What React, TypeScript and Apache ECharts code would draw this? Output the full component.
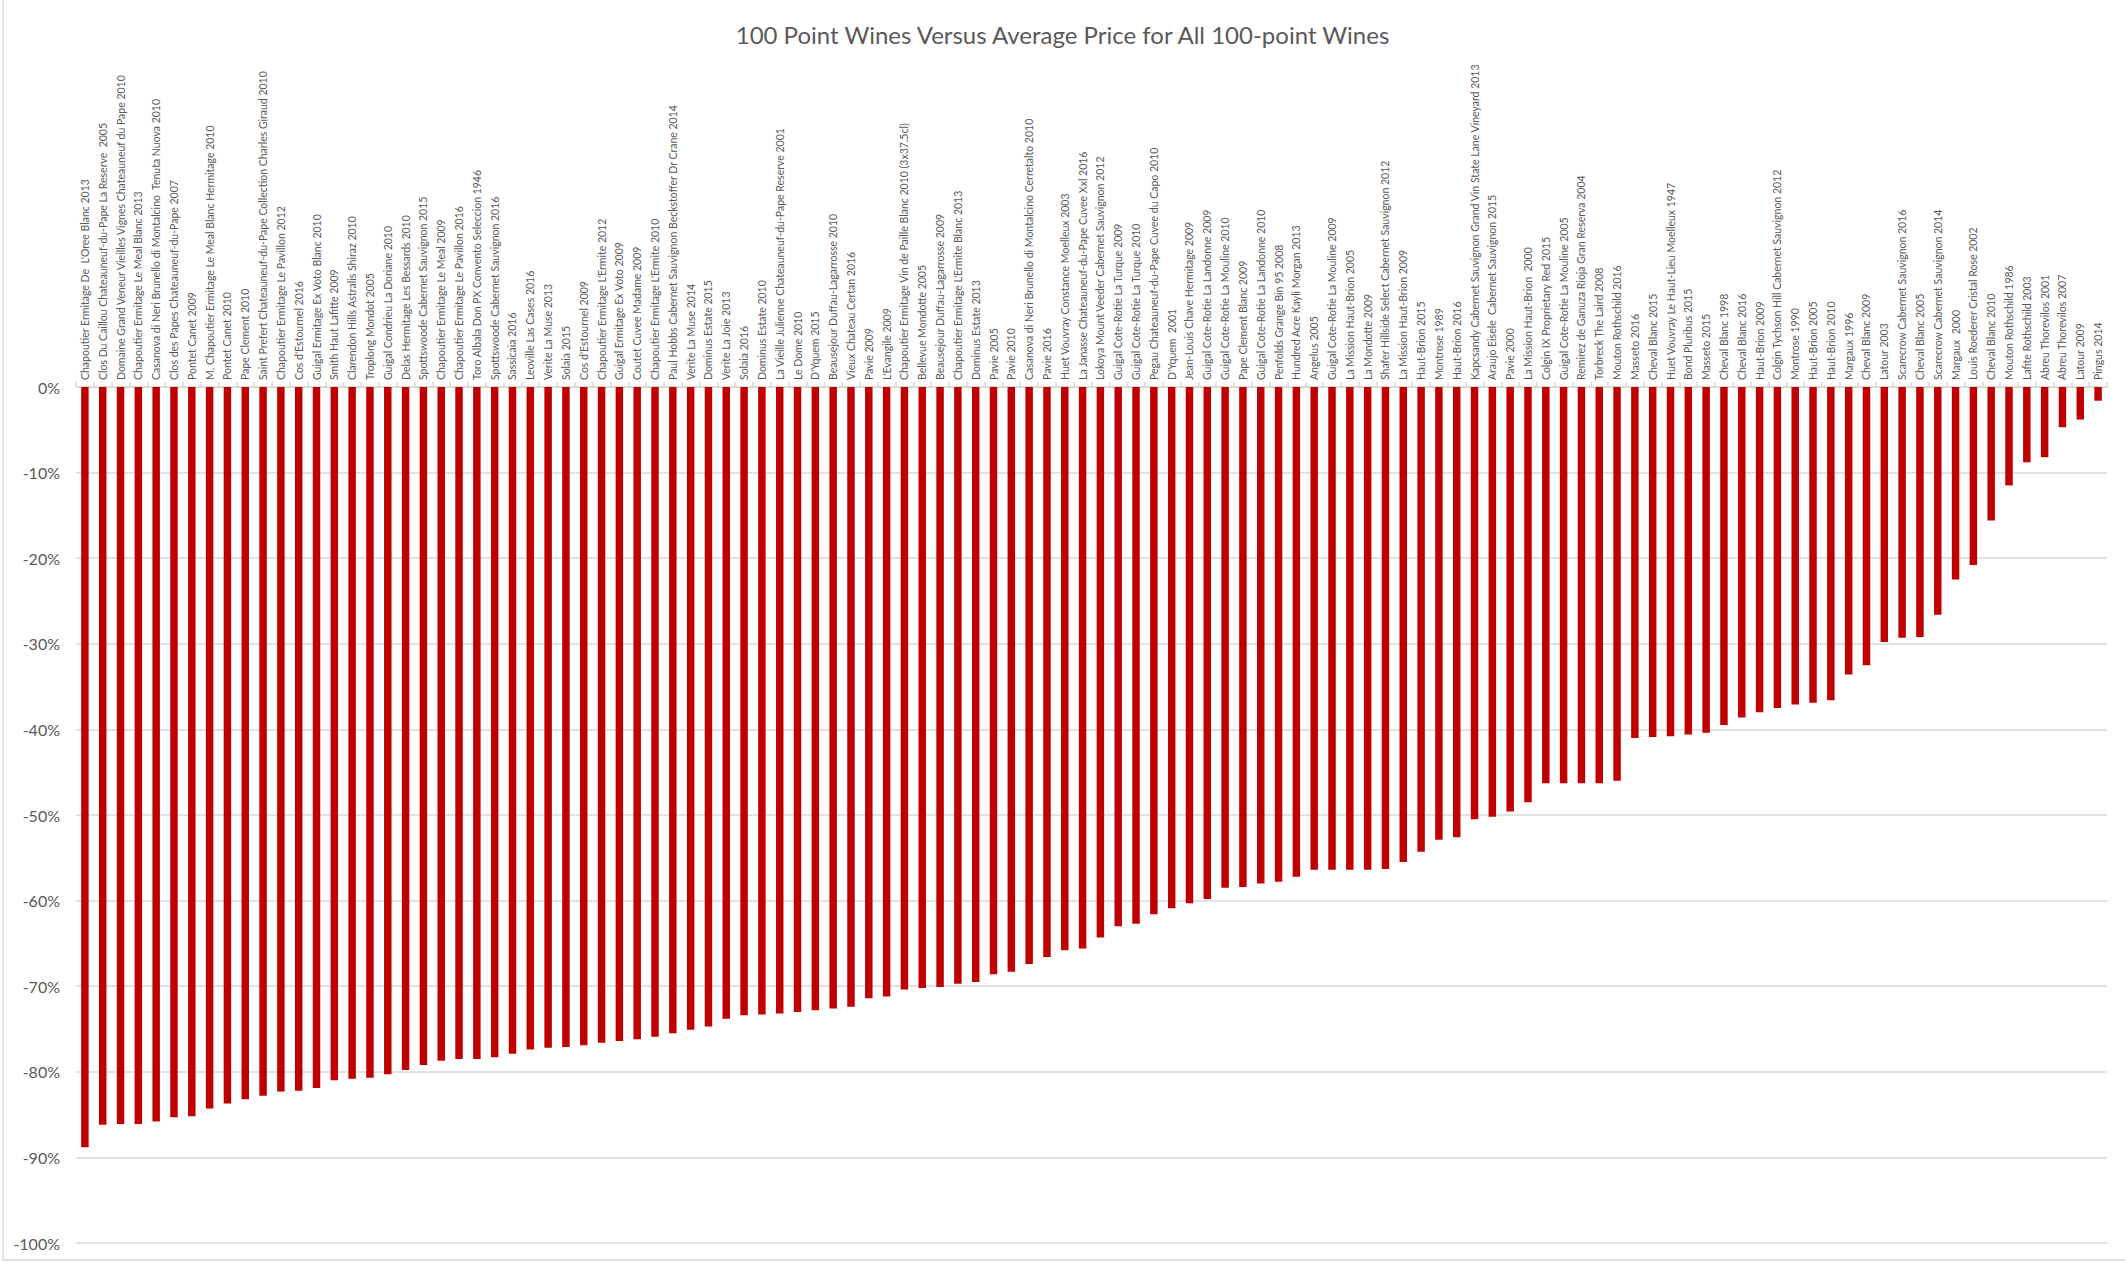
import React, { useEffect, useRef } from "react";
import * as echarts from "echarts";

const TITLE = "100 Point Wines Versus Average Price for All 100-point Wines";

const wines: string[] = [
  "Chapoutier Ermitage De  L'Oree Blanc 2013",
  "Clos Du Caillou Chateauneuf-du-Pape La Reserve  2005",
  "Domaine Grand Veneur Vieilles Vignes Chateauneuf du Pape 2010",
  "Chapoutier Ermitage Le Meal Blanc 2013",
  "Casanova di Neri Brunello di Montalcino  Tenuta Nuova 2010",
  "Clos des Papes Chateauneuf-du-Pape 2007",
  "Pontet Canet 2009",
  "M. Chapoutier Ermitage Le Meal Blanc Hermitage 2010",
  "Pontet Canet 2010",
  "Pape Clement 2010",
  "Saint Prefert Chateauneuf-du-Pape Collection Charles Giraud 2010",
  "Chapoutier Ermitage Le Pavillon 2012",
  "Cos d'Estournel 2016",
  "Guigal Ermitage Ex Voto Blanc 2010",
  "Smith Haut Lafitte 2009",
  "Clarendon Hills Astralis Shiraz 2010",
  "Troplong Mondot 2005",
  "Guigal Condrieu La Doriane 2010",
  "Delas Hermitage Les Bessards 2010",
  "Spottswoode Cabernet Sauvignon 2015",
  "Chapoutier Ermitage Le Meal 2009",
  "Chapoutier Ermitage Le Pavillon 2016",
  "Toro Albala Don PX Convento Seleccion 1946",
  "Spottswoode Cabernet Sauvignon 2016",
  "Sassicaia 2016",
  "Leoville Las Cases 2016",
  "Verite La Muse 2013",
  "Solaia 2015",
  "Cos d'Estournel 2009",
  "Chapoutier Ermitage L'Ermite 2012",
  "Guigal Ermitage Ex Voto 2009",
  "Coutet Cuvee Madame 2009",
  "Chapoutier Ermitage L'Ermite 2010",
  "Paul Hobbs Cabernet Sauvignon Beckstoffer Dr Crane 2014",
  "Verite La Muse 2014",
  "Dominus Estate 2015",
  "Verite La Joie 2013",
  "Solaia 2016",
  "Dominus Estate 2010",
  "La Vieille Julienne Chateauneuf-du-Pape Reserve 2001",
  "Le Dome 2010",
  "D'Yquem 2015",
  "Beausejour Duffau-Lagarrosse 2010",
  "Vieux Chateau Certan 2016",
  "Pavie 2009",
  "L'Evangile 2009",
  "Chapoutier Ermitage Vin de Paille Blanc 2010 (3x37.5cl)",
  "Bellevue Mondotte 2005",
  "Beausejour Duffau-Lagarrosse 2009",
  "Chapoutier Ermitage L'Ermite Blanc 2013",
  "Dominus Estate 2013",
  "Pavie 2005",
  "Pavie 2010",
  "Casanova di Neri Brunello di Montalcino Cerretalto 2010",
  "Pavie 2016",
  "Huet Vouvray Constance Moelleux 2003",
  "La Janasse Chateauneuf-du-Pape Cuvee Xxl 2016",
  "Lokoya Mount Veeder Cabernet Sauvignon 2012",
  "Guigal Cote-Rotie La Turque 2009",
  "Guigal Cote-Rotie La Turque 2010",
  "Pegau Chateauneuf-du-Pape Cuvee du Capo 2010",
  "D'Yquem  2001",
  "Jean-Louis Chave Hermitage 2009",
  "Guigal Cote-Rotie La Landonne 2009",
  "Guigal Cote-Rotie La Mouline 2010",
  "Pape Clement Blanc 2009",
  "Guigal Cote-Rotie La Landonne 2010",
  "Penfolds Grange Bin 95 2008",
  "Hundred Acre Kayli Morgan 2013",
  "Angelus 2005",
  "Guigal Cote-Rotie La Mouline 2009",
  "La Mission Haut-Brion 2005",
  "La Mondotte 2009",
  "Shafer Hillside Select Cabernet Sauvignon 2012",
  "La Mission Haut-Brion 2009",
  "Haut-Brion 2015",
  "Montrose 1989",
  "Haut-Brion 2016",
  "Kapcsandy Cabernet Sauvignon Grand Vin State Lane Vineyard 2013",
  "Araujo Eisele  Cabernet Sauvignon 2015",
  "Pavie 2000",
  "La Mission Haut-Brion  2000",
  "Colgin IX Proprietary Red 2015",
  "Guigal Cote-Rotie La Mouline 2005",
  "Remirez de Ganuza Rioja Gran Reserva 2004",
  "Torbreck The Laird 2008",
  "Mouton Rothschild 2016",
  "Masseto 2016",
  "Cheval Blanc 2015",
  "Huet Vouvray Le Haut-Lieu Moelleux 1947",
  "Bond Pluribus 2015",
  "Masseto 2015",
  "Cheval Blanc 1998",
  "Cheval Blanc 2016",
  "Haut-Brion 2009",
  "Colgin Tychson Hill Cabernet Sauvignon 2012",
  "Montrose 1990",
  "Haut-Brion 2005",
  "Haut-Brion 2010",
  "Margaux 1996",
  "Cheval Blanc 2009",
  "Latour 2003",
  "Scarecrow Cabernet Sauvignon 2016",
  "Cheval Blanc 2005",
  "Scarecrow Cabernet Sauvignon 2014",
  "Margaux  2000",
  "Louis Roederer Cristal Rose 2002",
  "Cheval Blanc 2010",
  "Mouton Rothschild 1986",
  "Lafite Rothschild 2003",
  "Abreu Thorevilos 2001",
  "Abreu Thorevilos 2007",
  "Latour 2009",
  "Pingus 2014",
];

// percent difference versus the average price
const pctVsAverage: number[] = [
  -88.8, -86.2, -86.1, -86.1, -85.8, -85.3, -85.2, -84.3, -83.7, -83.2,
  -82.8, -82.3, -82.2, -81.9, -81.0, -80.8, -80.7, -80.3, -79.8, -79.2,
  -78.7, -78.5, -78.5, -78.3, -77.9, -77.4, -77.2, -77.1, -76.9, -76.6,
  -76.4, -76.2, -75.9, -75.5, -75.1, -74.7, -73.8, -73.4, -73.3, -73.2,
  -73.0, -72.8, -72.6, -72.4, -71.4, -71.2, -70.4, -70.2, -70.1, -69.7,
  -69.5, -68.6, -68.3, -67.4, -66.6, -65.8, -65.6, -64.3, -63.0, -62.7,
  -61.6, -60.9, -60.3, -59.8, -58.5, -58.4, -58.0, -57.8, -57.2, -56.4,
  -56.4, -56.4, -56.4, -56.3, -55.5, -54.3, -52.9, -52.6, -50.5, -50.2,
  -49.6, -48.5, -46.3, -46.3, -46.3, -46.3, -46.0, -41.0, -40.9, -40.8,
  -40.6, -40.4, -39.5, -38.6, -38.0, -37.5, -37.1, -36.9, -36.6, -33.6,
  -32.5, -29.8, -29.3, -29.2, -26.6, -22.5, -20.8, -15.6, -11.5, -8.8,
  -8.2, -4.7, -3.8, -1.6,
];

const Y_MIN = -100;
const Y_MAX = 0;
const Y_STEP = 10;

const FONT = "Lato, 'Open Sans', sans-serif";
const GREY_TEXT = "#595959";
const GRID_LINE = "#d9d9d9";

export default function App() {
  const ref = useRef<HTMLDivElement>(null);

  useEffect(() => {
    if (!ref.current) return;
    const chart = echarts.init(ref.current, null, { renderer: "svg" });
    chart.setOption({
      animation: false,
      backgroundColor: "#ffffff",
      textStyle: { fontFamily: FONT },
      title: {
        text: TITLE,
        left: "center",
        top: 17,
        textStyle: {
          fontFamily: FONT,
          fontSize: 24,
          fontWeight: "normal",
          color: GREY_TEXT,
        },
      },
      graphic: [
        {
          type: "line",
          shape: { x1: 3, y1: 0, x2: 3, y2: 1260 },
          style: { stroke: GRID_LINE, lineWidth: 1.5 },
          silent: true,
        },
        {
          type: "line",
          shape: { x1: 3, y1: 1260, x2: 2125, y2: 1260 },
          style: { stroke: GRID_LINE, lineWidth: 1.5 },
          silent: true,
        },
      ],
      grid: {
        left: 76,
        right: 18,
        top: 387,
        bottom: 21,
        containLabel: false,
      },
      xAxis: {
        type: "category",
        position: "top",
        data: wines,
        boundaryGap: true,
        axisLine: { show: true, lineStyle: { color: GRID_LINE, width: 1.5 } },
        axisTick: {
          show: true,
          length: 5,
          interval: 0,
          lineStyle: { color: GRID_LINE, width: 1.5 },
        },
        axisLabel: {
          interval: 0,
          rotate: 90,
          fontSize: 10.5,
          margin: 7,
          color: GREY_TEXT,
          fontFamily: FONT,
          hideOverlap: false,
        },
        splitLine: { show: false },
      },
      yAxis: {
        type: "value",
        min: Y_MIN,
        max: Y_MAX,
        interval: Y_STEP,
        axisLine: { show: false },
        axisTick: { show: false },
        axisLabel: {
          formatter: "{value}%",
          fontSize: 16,
          margin: 16,
          color: GREY_TEXT,
          fontFamily: FONT,
        },
        splitLine: { show: true, lineStyle: { color: GRID_LINE, width: 1.5 } },
      },
      series: [
        {
          type: "bar",
          data: pctVsAverage,
          barWidth: "42%",
          itemStyle: { color: "#C00000" },
          silent: true,
        },
      ],
    });
    return () => chart.dispose();
  }, []);

  return (
    <div
      ref={ref}
      style={{
        position: "absolute",
        left: 0,
        top: 0,
        width: 2125,
        height: 1264,
        background: "#ffffff",
      }}
    />
  );
}
